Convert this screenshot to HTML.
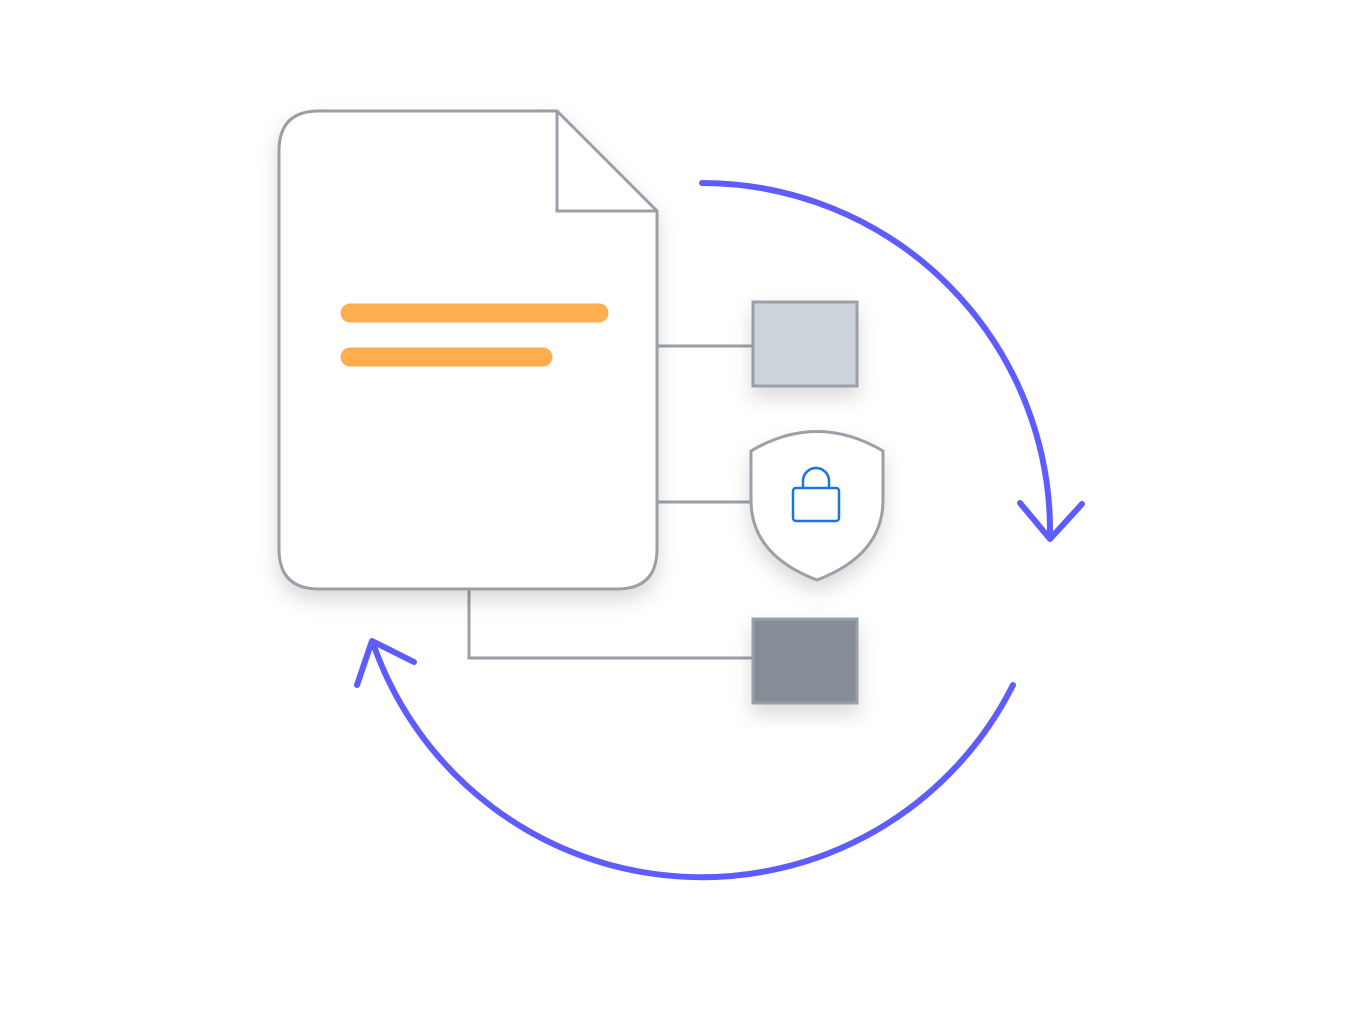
<!DOCTYPE html>
<html><head><style>html,body{margin:0;padding:0;background:#fff;}svg{display:block}</style></head>
<body>
<svg width="1360" height="1020" viewBox="0 0 1360 1020" xmlns="http://www.w3.org/2000/svg">
<defs>
<filter id="sh" x="-30%" y="-30%" width="160%" height="160%">
<feDropShadow dx="0" dy="10" stdDeviation="10" flood-color="#000" flood-opacity="0.15"/>
</filter>
</defs>
<g fill="none" stroke="#9aa0a8" stroke-width="3">
<line x1="657" y1="346" x2="752" y2="346"/>
<line x1="657" y1="502" x2="752" y2="502"/>
<polyline points="469,589 469,658 752,658"/>
</g>
<path d="M319,111 H557 L657,211 V549 Q657,589 617,589 H319 Q279,589 279,549 V151 Q279,111 319,111 Z" fill="#fff" stroke="#9aa0a8" stroke-width="3" filter="url(#sh)"/>
<polyline points="557,111 557,211 657,211" fill="none" stroke="#9aa0a8" stroke-width="3"/>
<line x1="350" y1="313" x2="599" y2="313" stroke="#ffae4f" stroke-width="19" stroke-linecap="round"/>
<line x1="350" y1="357" x2="543" y2="357" stroke="#ffae4f" stroke-width="19" stroke-linecap="round"/>
<rect x="753" y="302" width="104" height="84" fill="#cdd4dc" stroke="#9aa0a8" stroke-width="3" filter="url(#sh)"/>
<rect x="753" y="619" width="104" height="84" fill="#878d96" stroke="#9aa0a8" stroke-width="3" filter="url(#sh)"/>
<path d="M751,451 Q817,412 883,451 V500 Q883,555 817,580 Q751,555 751,500 Z" fill="#fff" stroke="#9aa0a8" stroke-width="3" filter="url(#sh)"/>
<rect x="793" y="488" width="46" height="33" rx="3" fill="none" stroke="#1a73e8" stroke-width="2.5"/>
<path d="M803,488 V481 A13,13 0 0 1 829,481 V488" fill="none" stroke="#1a73e8" stroke-width="2.5"/>
<g fill="none" stroke="#5f5cff" stroke-width="6" stroke-linecap="round" stroke-linejoin="round">
<path d="M702,183 A348,348 0 0 1 1050,535"/>
<polyline points="1020,503 1050,539 1082,504"/>
<path d="M1013,685 A348,348 0 0 1 374,646"/>
<polyline points="357,685 372,641 414,662"/>
</g>
</svg>
</body></html>
